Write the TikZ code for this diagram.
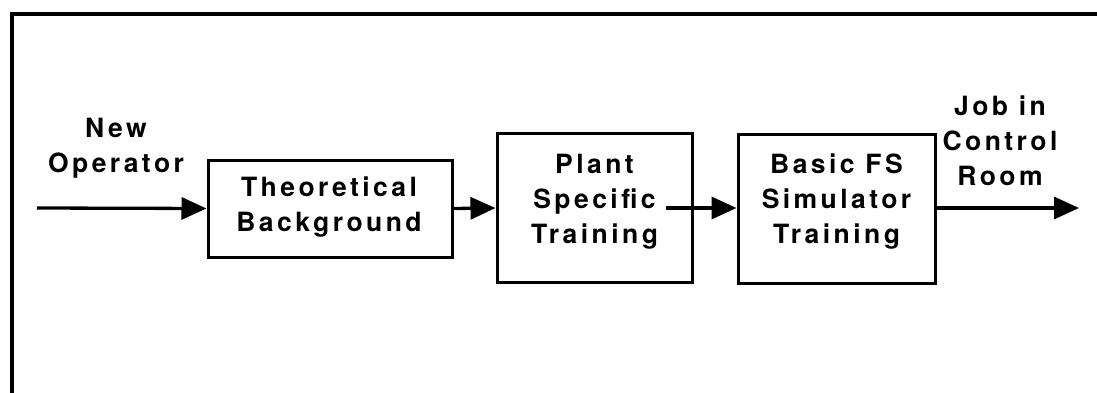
\documentclass[tikz,border=0pt]{standalone}
\usepackage{fontspec}
\setmainfont{TeX Gyre Heros}[LetterSpace=13]
\usetikzlibrary{arrows.meta}
\begin{document}
\begin{tikzpicture}[x=1pt,y=-1pt,
  font=\fontsize{26.5}{35}\selectfont\bfseries,
  stage/.style={draw,line width=3pt,inner sep=0pt},
  caption/.style={align=center,inner sep=0pt},
  flow/.style={line width=3.3pt,-{Triangle[length=25pt,width=22pt]}}]
\useasboundingbox (0,0) rectangle (1097,393);
% open frame: top and left rules
\draw[line width=4.5pt] (12,393) -- (12,14) -- (1097,14);

% stage boxes
\node[stage,minimum width=244pt,minimum height=97pt] (tb) at (330,208.5) {};
\node[stage,minimum width=195pt,minimum height=148pt] (pst) at (594.5,208) {};
\node[stage,minimum width=197pt,minimum height=148pt] (bfs) at (836.5,209) {};

% box captions
\node[caption] (tbt) at (329,207) {Theoretical\\Background};
\node[caption] (pstt) at (594.5,202) {Plant\\Specific\\Training};
\node[caption] (bfst) at (836.5,202) {Basic FS\\Simulator\\Training};

% input / output labels
\node[caption] (newop) at (116,148) {New\\Operator};
\node[caption] (job) at (1000,141) {Job in\\Control\\Room};

% flow arrows
\coordinate (in) at (37,208);
\coordinate (mid) at (666,208);
\coordinate (out) at (1079,208);
\draw[flow] (in) -- (tb.west);
\draw[flow] (tb.east) -- (pst.west);
\draw[flow] (mid) -- (bfs.west |- mid);
\draw[flow] (bfs.east |- out) -- (out);
\end{tikzpicture}
\end{document}
